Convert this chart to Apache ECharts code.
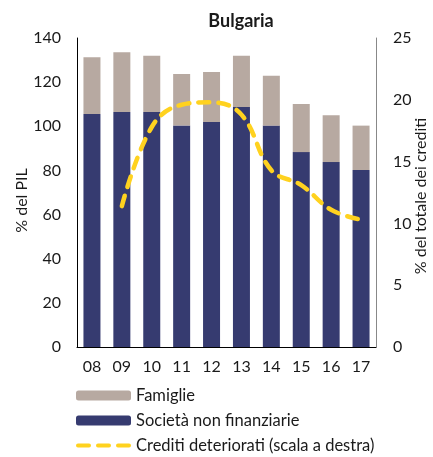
<!DOCTYPE html>
<html>
<head>
<meta charset="utf-8">
<script src="https://cdn.jsdelivr.net/npm/echarts@6/dist/echarts.min.js"></script>
<style>
  html, body { margin: 0; padding: 0; background: #fff; }
  #chart { width: 433px; height: 457px; }
</style>
</head>
<body>
<div id="chart"></div>
<script>
const years = ["08", "09", "10", "11", "12", "13", "14", "15", "16", "17"]
// % del PIL
const societa = [105.6, 106.5, 106.5, 100.4, 101.9, 108.7, 100.3, 88.3, 83.8, 80.2]
const famiglie = [25.7, 27.0, 25.5, 23.3, 22.7, 23.3, 22.6, 21.8, 21.2, 20.1]
// % del totale dei crediti (scala a destra)
const crediti = [null, 11.4, 17.8, 19.6, 19.8, 18.8, 14.3, 13.1, 11.1, 10.3]

const font = "Lato, 'Open Sans', sans-serif"
const txt = "#1a1a1a"
const yellow = "#ffd21f"

// three rounded dashes for the legend icon of the line
const dashIcon =
  "path://M2,0h11a2,2 0 0 1 0,4h-11a2,2 0 0 1 0,-4z" +
  "M22,0h11a2,2 0 0 1 0,4h-11a2,2 0 0 1 0,-4z" +
  "M42,0h11a2,2 0 0 1 0,4h-11a2,2 0 0 1 0,-4z"

const legendRow = (top, item) => ({
  orient: "vertical",
  left: 76,
  top: top,
  padding: 0,
  itemWidth: 55,
  itemHeight: 10,
  textStyle: { fontFamily: font, fontSize: 16.5, color: txt },
  data: [item],
})

const chart = echarts.init(document.getElementById("chart"))

chart.setOption({
  animation: false,
  textStyle: { fontFamily: font, color: txt },
  title: {
    text: "Bulgaria",
    left: 236,
    textAlign: "center",
    top: 7,
    textStyle: { fontFamily: font, fontSize: 18, fontWeight: "bold", color: txt },
  },
  grid: { left: 77, right: 57, top: 38, bottom: 110, outerBoundsMode: "none" },
  legend: [
    legendRow(387, "Famiglie"),
    legendRow(412, "Società non finanziarie"),
    legendRow(437, {
      name: "Crediti deteriorati (scala a destra)",
      icon: dashIcon,
      itemStyle: { color: yellow, borderWidth: 0 },
    }),
  ],
  xAxis: {
    type: "category",
    data: years,
    axisLine: { lineStyle: { color: "#000", width: 1 } },
    axisTick: { show: false },
    axisLabel: { fontSize: 16, color: txt, margin: 12 },
  },
  yAxis: [
    {
      type: "value",
      min: 0,
      max: 140,
      interval: 20,
      name: "% del PIL",
      nameLocation: "middle",
      nameMoveOverlap: false,
      nameGap: 47,
      nameTextStyle: { fontSize: 16, color: txt, padding: [0, 16, 0, 0] },
      axisLine: { show: true, lineStyle: { color: "#000" } },
      axisTick: { show: false },
      splitLine: { show: false },
      axisLabel: { fontSize: 16, color: txt, margin: 16 },
    },
    {
      type: "value",
      min: 0,
      max: 25,
      interval: 5,
      name: "% del totale dei crediti",
      nameLocation: "middle",
      nameMoveOverlap: false,
      nameGap: 37,
      nameRotate: 90,
      nameTextStyle: { fontSize: 16, color: txt, padding: [0, 7, 0, 0] },
      axisLine: { show: true, lineStyle: { color: "#888" } },
      axisTick: { show: false },
      splitLine: { show: false },
      axisLabel: { fontSize: 16, color: txt, margin: 17 },
    },
  ],
  series: [
    {
      name: "Società non finanziarie",
      type: "bar",
      stack: "tot",
      data: societa,
      barWidth: 17,
      itemStyle: { color: "#363b70" },
    },
    {
      name: "Famiglie",
      type: "bar",
      stack: "tot",
      data: famiglie,
      barWidth: 17,
      itemStyle: { color: "#b7a9a1" },
    },
    {
      name: "Crediti deteriorati (scala a destra)",
      type: "line",
      yAxisIndex: 1,
      data: crediti,
      smooth: 0.4,
      symbol: "none",
      lineStyle: { color: yellow, width: 4.5, type: [11, 9], cap: "round" },
      itemStyle: { color: yellow },
    },
  ],
})
</script>
</body>
</html>
